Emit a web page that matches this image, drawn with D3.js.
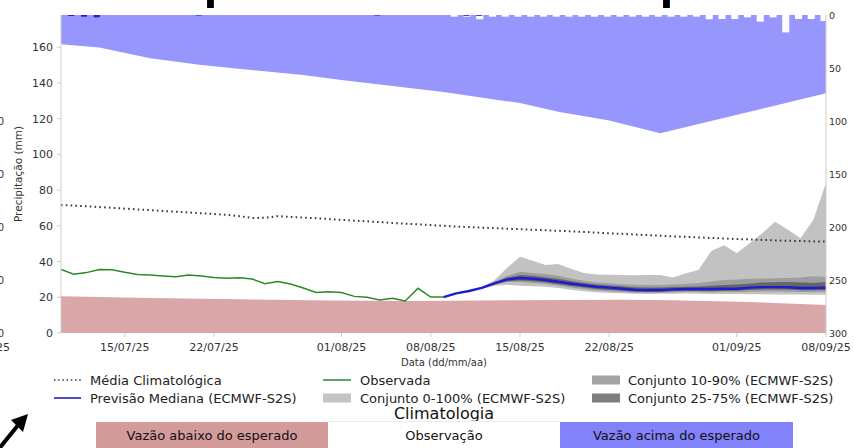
<!DOCTYPE html>
<html><head><meta charset="utf-8">
<script src="https://cdn.jsdelivr.net/npm/d3@7"></script>
<style>
html,body{margin:0;padding:0;background:#fff;overflow:hidden}
svg{display:block;font-family:"DejaVu Sans",sans-serif}
</style></head><body>
<svg id="c" width="854" height="448"></svg>
<script>
// ---------------- DATA ----------------
const startDate = "2025-07-10";
const nDays = 61;
const xTickDates = ["2025-07-15","2025-07-22","2025-08-01","2025-08-08","2025-08-15","2025-08-22","2025-09-01","2025-09-08"];
const xTickLabels = ["15/07/25","22/07/25","01/08/25","08/08/25","15/08/25","22/08/25","01/09/25","08/09/25"];
const yTicks = [0,20,40,60,80,100,120,140,160];
const rightTicks = [0,50,100,150,200,250,300];

// Média climatológica (mm), daily from 10/07/25
const climatology = [71.6,71.3,70.9,70.5,70.1,69.6,69.2,68.8,68.3,67.9,67.5,67.0,66.6,66.1,65.4,64.4,64.5,65.4,65.0,64.6,
  64.2,63.8,63.3,62.9,62.5,62.1,61.6,61.2,60.8,60.4,60.0,59.6,59.3,59.0,58.7,58.4,58.1,57.8,57.5,57.2,
  56.9,56.6,56.2,55.8,55.5,55.1,54.8,54.4,54.1,53.8,53.5,53.2,52.9,52.6,52.4,52.1,51.8,51.6,51.5,51.3,51.2];
// Observada (mm), days 0..30
const observed = [35.6,32.9,33.8,35.5,35.4,34.0,32.8,32.4,31.9,31.5,32.4,31.9,31.1,30.6,30.9,30.2,27.6,28.8,27.4,25.2,
  22.7,23.1,22.7,20.5,20.0,18.5,19.4,17.9,25.0,20.1,20.1];
// Forecast (ECMWF-S2S), days 30..60
const fcstStartDay = 30;
const median = [20.1,22.2,23.5,25.3,27.8,30.0,30.8,30.4,29.7,28.7,27.6,26.7,25.9,25.4,24.8,24.2,24.1,24.1,24.4,24.6,
  24.6,24.6,24.8,24.8,25.4,25.7,25.7,25.6,25.2,25.2,25.3];
const ensMax = [20.1,22.2,23.6,25.8,29.5,36.5,42.7,40.5,38.1,38.6,36.0,33.6,32.8,32.6,32.4,32.3,32.4,32.4,31.1,33.4,
  35.2,45.9,49.1,44.6,50.2,55.8,62.3,58.0,53.0,63.2,84.0];
const ensMin = [20.1,22.2,23.4,24.8,26.5,27.0,26.5,26.2,25.9,25.2,24.2,23.4,22.8,22.4,22.2,22.0,21.9,22.0,22.0,22.1,
  22.0,21.9,21.8,21.8,21.7,21.7,21.6,21.6,21.5,21.4,21.4];
const ens90 = [20.1,22.2,23.5,25.6,28.8,32.0,34.3,33.6,33.0,32.0,30.5,29.2,28.3,27.8,27.3,27.0,26.8,26.9,27.2,27.6,
  28.0,28.8,29.6,30.0,30.3,30.5,30.6,30.8,31.0,31.8,31.3];
const ens10 = [20.1,22.2,23.4,25.0,27.0,28.5,28.6,28.0,27.4,26.6,25.5,24.6,23.8,23.3,22.9,22.6,22.5,22.6,22.8,22.9,
  22.9,22.8,22.9,22.9,23.1,23.2,23.2,23.1,23.0,23.0,23.0];
const ens75 = [20.1,22.2,23.5,25.5,28.3,31.0,32.4,32.0,31.2,30.3,29.1,28.0,27.2,26.6,26.1,25.6,25.4,25.4,25.7,25.9,
  26.0,26.4,26.9,27.2,27.6,28.2,28.4,28.5,28.3,28.0,28.6];
const ens25 = [20.1,22.2,23.4,25.1,27.4,29.0,29.4,29.0,28.3,27.3,26.3,25.4,24.6,24.1,23.6,23.1,22.9,23.0,23.3,23.5,
  23.5,23.4,23.6,23.7,24.1,24.4,24.4,24.3,23.9,23.9,24.0];
// Climatologia thresholds (mm)
const aboveDates = ["2025-07-10","2025-07-13","2025-07-17","2025-07-21","2025-07-29","2025-08-01","2025-08-09","2025-08-15","2025-08-18","2025-08-22","2025-08-26","2025-09-08"];
const aboveValues = [161.6,159.8,153.8,150.0,144.4,141.6,134.9,128.7,123.9,118.9,111.8,134.2];
const belowDates = ["2025-07-10","2025-07-17","2025-07-24","2025-07-31","2025-08-07","2025-08-15","2025-08-23","2025-08-27","2025-09-02","2025-09-08"];
const belowValues = [20.6,19.6,18.9,18.2,17.9,18.4,18.6,18.4,17.4,15.7];
// Daily precipitation bars (right axis, mm)
const precipObsDays = [1,2,3,11,25,32,33];
const precipObsValues = [1.0,1.6,2.2,0.5,0.5,0.8,0.8];
const precipFcstDays = d3.range(31,61);
const precipFcstValues = [1.6,1.6,4.0,1.6,1.6,1.6,1.6,1.6,1.6,1.6,1.6,1.6,1.6,1.6,1.6,1.6,1.6,1.6,1.6,1.6,
  4.0,3.8,3.8,2.2,6.3,2.2,16.4,3.8,3.8,5.7];
// neighbouring (cropped) panel labels
const neighbourRightTicks = [100,150,200,250,300];

// ---------------- DRAW ----------------
const svg = d3.select("#c");
const parse = d3.timeParse("%Y-%m-%d");
const t0 = parse(startDate);
const dayDate = i => d3.timeDay.offset(t0, i);
const M = {l:61, r:826, t:15, b:333};
const x = d3.scaleTime().domain([t0, dayDate(nDays-1)]).range([M.l, M.r]);
const y = d3.scaleLinear().domain([0,178]).range([M.b, M.t]);
const yr = d3.scaleLinear().domain([0,300]).range([M.t, M.b]);

const defs = svg.append("defs");
defs.append("clipPath").attr("id","pc")
  .append("rect").attr("x",M.l).attr("y",M.t).attr("width",M.r-M.l).attr("height",M.b-M.t);
const plot = svg.append("g").attr("clip-path","url(#pc)");

// blue: above expected
const aboveData = aboveDates.map((d,i)=>({d:parse(d), v:aboveValues[i]}));
plot.append("path").datum(aboveData)
  .attr("d", d3.area().x(p=>x(p.d)).y0(M.t).y1(p=>y(p.v)))
  .attr("fill","#9696fc");
// red: below expected
const belowData = belowDates.map((d,i)=>({d:parse(d), v:belowValues[i]}));
plot.append("path").datum(belowData)
  .attr("d", d3.area().x(p=>x(p.d)).y0(y(0)).y1(p=>y(p.v)))
  .attr("fill","#d9a7a7");

// precipitation bars (right axis, hanging from top)
const bw = 7;
plot.selectAll("rect.pf").data(precipFcstDays).enter().append("rect")
  .attr("x", (d)=>x(dayDate(d))-2-bw/2).attr("y", yr(0))
  .attr("width", bw).attr("height", (d,i)=>yr(precipFcstValues[i])-yr(0))
  .attr("fill","#ffffff");
plot.selectAll("rect.po").data(precipObsDays).enter().append("rect")
  .attr("x", (d)=>x(dayDate(d))-2-bw/2).attr("y", yr(0))
  .attr("width", bw-1).attr("height", (d,i)=>yr(precipObsValues[i])-yr(0))
  .attr("fill","#2020d0");

// ensemble bands
const fIdx = d3.range(median.length);
const fx = i => x(dayDate(fcstStartDay+i));
const band = (lo,hi) => d3.area().x(fx).y0(i=>y(lo[i])).y1(i=>y(hi[i]));
plot.append("path").datum(fIdx).attr("d", band(ensMin,ensMax)).attr("fill","#c2c2c2");
plot.append("path").datum(fIdx).attr("d", band(ens10,ens90)).attr("fill","#9e9e9e");
plot.append("path").datum(fIdx).attr("d", band(ens25,ens75)).attr("fill","#666666");

// climatology dotted
plot.append("path").datum(climatology)
  .attr("d", d3.line().x((v,i)=>x(dayDate(i))).y(v=>y(v)))
  .attr("fill","none").attr("stroke","#3a3a3a").attr("stroke-width",2)
  .attr("stroke-dasharray","1.6,3.2");
// observed
plot.append("path").datum(observed)
  .attr("d", d3.line().x((v,i)=>x(dayDate(i))).y(v=>y(v)))
  .attr("fill","none").attr("stroke","#2a8a2a").attr("stroke-width",1.5);
// median
plot.append("path").datum(median)
  .attr("d", d3.line().x((v,i)=>fx(i)).y(v=>y(v)))
  .attr("fill","none").attr("stroke","#1c1cd2").attr("stroke-width",2.4).attr("stroke-linejoin","round");

// spines
const spine = "#cfcfcf";
svg.append("line").attr("x1",M.l).attr("x2",M.l).attr("y1",M.t).attr("y2",M.b).attr("stroke",spine);
svg.append("line").attr("x1",M.r).attr("x2",M.r).attr("y1",M.t).attr("y2",M.b).attr("stroke",spine);

// left axis
const ga = svg.append("g").attr("font-size",11).attr("fill","#333");
yTicks.forEach(v=>{
  svg.append("line").attr("x1",M.l-4).attr("x2",M.l).attr("y1",y(v)).attr("y2",y(v)).attr("stroke","#ccc");
  ga.append("text").attr("x",M.l-8).attr("y",y(v)+4).attr("text-anchor","end").text(v);
});
// right axis
const gr = svg.append("g").attr("font-size",9.5).attr("fill","#333");
rightTicks.forEach(v=>{
  gr.append("text").attr("x",M.r+3).attr("y",yr(v)+3.5).text(v);
});
// x axis
const gx = svg.append("g").attr("font-size",11).attr("fill","#333");
xTickDates.forEach((d,i)=>{
  const px = x(parse(d));
  svg.append("line").attr("x1",px).attr("x2",px).attr("y1",M.b).attr("y2",M.b+4).attr("stroke","#ccc");
  gx.append("text").attr("x",px).attr("y",351).attr("text-anchor","middle").text(xTickLabels[i]);
});
svg.append("text").attr("x",444).attr("y",366).attr("text-anchor","middle")
  .attr("font-size",10).attr("fill","#333").text("Data (dd/mm/aa)");
svg.append("text").attr("transform","translate(22,174) rotate(-90)").attr("text-anchor","middle")
  .attr("font-size",10.5).attr("fill","#333").text("Precipitação (mm)");

// legend
const lg = svg.append("g").attr("font-size",13).attr("fill","#222");
const r1 = 380, r2 = 398;
svg.append("line").attr("x1",54).attr("x2",81).attr("y1",r1).attr("y2",r1)
  .attr("stroke","#3a3a3a").attr("stroke-width",1.5).attr("stroke-dasharray","1.5,2.7");
lg.append("text").attr("x",90).attr("y",r1+4.5).text("Média Climatológica");
svg.append("line").attr("x1",54).attr("x2",81).attr("y1",r2).attr("y2",r2)
  .attr("stroke","#3a3ac0").attr("stroke-width",1.8);
lg.append("text").attr("x",90).attr("y",r2+4.5).text("Previsão Mediana (ECMWF-S2S)");
svg.append("line").attr("x1",323).attr("x2",351).attr("y1",r1).attr("y2",r1)
  .attr("stroke","#2a8a2a").attr("stroke-width",1.5);
lg.append("text").attr("x",360).attr("y",r1+4.5).text("Observada");
svg.append("rect").attr("x",323).attr("y",r2-4.5).attr("width",28).attr("height",9).attr("fill","#c4c4c4");
lg.append("text").attr("x",360).attr("y",r2+4.5).text("Conjunto 0-100% (ECMWF-S2S)");
svg.append("rect").attr("x",592).attr("y",r1-4.5).attr("width",28).attr("height",9).attr("fill","#a4a4a4");
lg.append("text").attr("x",628).attr("y",r1+4.5).text("Conjunto 10-90% (ECMWF-S2S)");
svg.append("rect").attr("x",592).attr("y",r2-4.5).attr("width",28).attr("height",9).attr("fill","#7e7e7e");
lg.append("text").attr("x",628).attr("y",r2+4.5).text("Conjunto 25-75% (ECMWF-S2S)");

// Climatologia table
svg.append("text").attr("x",444).attr("y",419).attr("text-anchor","middle")
  .attr("font-size",16).attr("fill","#111").text("Climatologia");
svg.append("line").attr("x1",328).attr("x2",560).attr("y1",421.5).attr("y2",421.5).attr("stroke","#ececec");
const cells = [
  {x0:96, x1:328, fill:"#d49b9b", label:"Vazão abaixo do esperado"},
  {x0:328, x1:560, fill:"#ffffff", label:"Observação"},
  {x0:560, x1:793, fill:"#8282fb", label:"Vazão acima do esperado"}];
cells.forEach(c=>{
  svg.append("rect").attr("x",c.x0).attr("y",422).attr("width",c.x1-c.x0).attr("height",30).attr("fill",c.fill);
  svg.append("text").attr("x",(c.x0+c.x1)/2).attr("y",440).attr("text-anchor","middle")
    .attr("font-size",13).attr("fill","#111").text(c.label);
});

// cropped fragments of the surrounding figure (title descenders, clipped to stems)
[[207,"ta"],[663,"tb"]].forEach(([sx,id])=>{
  defs.append("clipPath").attr("id",id).append("rect").attr("x",sx).attr("y",0).attr("width",7).attr("height",8);
  svg.append("text").attr("clip-path",`url(#${id})`).attr("x",sx-3.5).attr("y",-1)
    .attr("font-size",40).attr("font-weight","bold").attr("fill","#000").text("p");
});
neighbourRightTicks.forEach(v=>{
  svg.append("text").attr("x",4).attr("y",yr(v)+3.5).attr("text-anchor","end").attr("font-size",10).attr("fill","#333").text(v);
});
svg.append("text").attr("x",10).attr("y",351).attr("text-anchor","end").attr("font-size",11).attr("fill","#333").text("08/09/25");
// arrow
svg.append("line").attr("x1",-2).attr("y1",450).attr("x2",19).attr("y2",424).attr("stroke","#000").attr("stroke-width",4);
svg.append("path").attr("d","M28,414 L11,420 L23,432 Z").attr("fill","#000");
</script>
</body></html>
